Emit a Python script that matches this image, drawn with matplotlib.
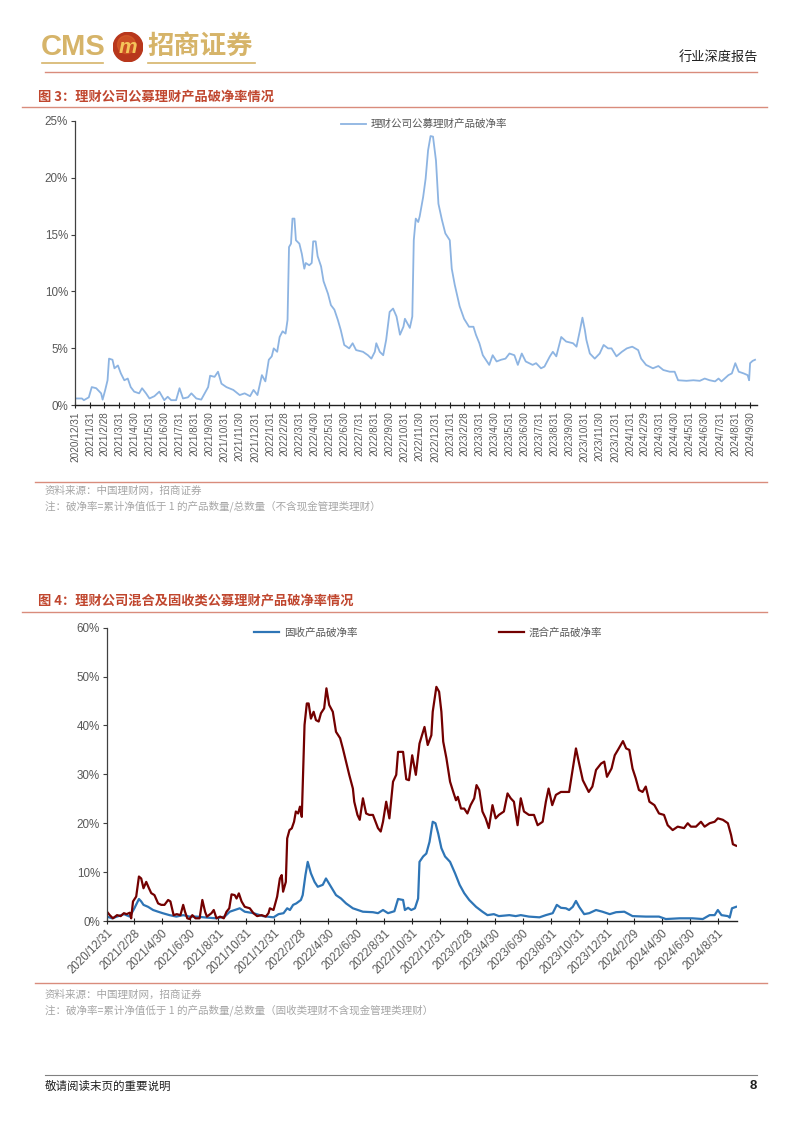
import matplotlib
matplotlib.use("Agg")
import matplotlib.pyplot as plt
from matplotlib.lines import Line2D
from matplotlib.patches import Circle
from matplotlib.ticker import FuncFormatter
import pandas as pd

W, H = 802, 1133
CJK = ["Noto Sans CJK SC", "DejaVu Sans"]
LATIN = ["Liberation Sans", "DejaVu Sans"]

# ---- 图3: 理财公司公募理财产品破净率 (%) ----
fig3_dates = [
    "2020-12-31", "2021-01-14", "2021-01-18", "2021-01-28", "2021-02-03", "2021-02-12", "2021-02-22",
    "2021-02-25", "2021-03-02", "2021-03-07", "2021-03-10", "2021-03-17", "2021-03-21", "2021-03-28",
    "2021-04-03", "2021-04-10", "2021-04-17", "2021-04-23", "2021-04-30", "2021-05-10", "2021-05-16",
    "2021-05-24", "2021-05-31", "2021-06-10", "2021-06-20", "2021-06-30", "2021-07-07", "2021-07-14",
    "2021-07-24", "2021-07-31", "2021-08-07", "2021-08-17", "2021-08-24", "2021-09-03", "2021-09-13",
    "2021-09-20", "2021-09-27", "2021-10-01", "2021-10-10", "2021-10-17", "2021-10-24", "2021-11-03",
    "2021-11-17", "2021-11-30", "2021-12-10", "2021-12-21", "2021-12-28", "2022-01-05", "2022-01-14",
    "2022-01-21", "2022-01-28", "2022-02-03", "2022-02-07", "2022-02-14", "2022-02-19", "2022-02-25",
    "2022-03-03", "2022-03-07", "2022-03-10", "2022-03-14", "2022-03-17", "2022-03-21", "2022-03-24",
    "2022-03-31", "2022-04-05", "2022-04-10", "2022-04-13", "2022-04-20", "2022-04-25", "2022-04-28",
    "2022-05-03", "2022-05-07", "2022-05-14", "2022-05-19", "2022-05-28", "2022-06-03", "2022-06-10",
    "2022-06-17", "2022-06-23", "2022-06-30", "2022-07-10", "2022-07-17", "2022-07-24", "2022-08-07",
    "2022-08-17", "2022-08-24", "2022-08-31", "2022-09-03", "2022-09-10", "2022-09-17", "2022-09-23",
    "2022-09-30", "2022-10-07", "2022-10-14", "2022-10-21", "2022-10-28", "2022-10-31", "2022-11-10",
    "2022-11-15", "2022-11-18", "2022-11-22", "2022-11-27", "2022-11-30", "2022-12-07", "2022-12-12",
    "2022-12-17", "2022-12-22", "2022-12-27", "2023-01-02", "2023-01-07", "2023-01-14", "2023-01-21",
    "2023-01-30", "2023-02-03", "2023-02-09", "2023-02-19", "2023-02-28", "2023-03-10", "2023-03-19",
    "2023-03-24", "2023-03-31", "2023-04-07", "2023-04-20", "2023-04-27", "2023-05-05", "2023-05-14",
    "2023-05-23", "2023-05-31", "2023-06-10", "2023-06-17", "2023-06-25", "2023-07-03", "2023-07-17",
    "2023-07-24", "2023-08-03", "2023-08-10", "2023-08-21", "2023-08-27", "2023-09-03", "2023-09-13",
    "2023-09-23", "2023-10-07", "2023-10-14", "2023-10-21", "2023-10-26", "2023-10-31", "2023-11-03",
    "2023-11-10", "2023-11-20", "2023-11-30", "2023-12-08", "2023-12-17", "2023-12-24", "2024-01-03",
    "2024-01-14", "2024-01-24", "2024-02-04", "2024-02-16", "2024-02-22", "2024-03-03", "2024-03-17",
    "2024-03-28", "2024-04-07", "2024-04-20", "2024-04-30", "2024-05-07", "2024-05-24", "2024-06-07",
    "2024-06-20", "2024-06-30", "2024-07-10", "2024-07-21", "2024-07-28", "2024-08-03", "2024-08-17",
    "2024-08-24", "2024-08-31", "2024-09-07", "2024-09-17", "2024-09-25", "2024-09-28", "2024-09-30",
    "2024-10-05", "2024-10-10",
]
fig3_rate = [
    0.6, 0.6, 0.45, 0.7, 1.6, 1.5, 1.05,
    0.5, 1.3, 2.2, 4.1, 4.0, 3.25, 3.5,
    2.8, 2.2, 2.35, 1.6, 1.2, 1.05, 1.5,
    1.05, 0.6, 0.8, 1.2, 0.45, 0.75, 0.45,
    0.45, 1.5, 0.6, 0.7, 1.05, 0.6, 0.5,
    1.05, 1.6, 2.6, 2.5, 2.95, 1.9, 1.6,
    1.35, 0.9, 1.05, 0.8, 1.35, 0.9, 2.65,
    2.1, 4.0, 4.3, 5.0, 4.7, 6.0, 6.5,
    6.3, 7.5, 13.9, 14.2, 16.4, 16.4, 14.5,
    14.2, 13.3, 12.0, 12.5, 12.3, 12.5, 14.4,
    14.4, 13.1, 12.2, 10.9, 9.8, 8.8, 8.4,
    7.5, 6.6, 5.3, 5.0, 5.45, 4.85, 4.7,
    4.4, 4.1, 4.7, 5.45, 4.7, 4.4, 5.75,
    8.2, 8.5, 7.8, 6.2, 6.9, 7.6, 6.8,
    7.8, 14.5, 16.4, 16.1, 16.6, 18.3, 19.9,
    22.4, 23.65, 23.6, 21.5, 17.7, 16.3, 15.1,
    14.5, 12.0, 10.6, 8.7, 7.6, 6.9, 6.9,
    6.2, 5.45, 4.4, 3.55, 4.4, 3.85, 4.0,
    4.1, 4.55, 4.4, 3.55, 4.55, 3.85, 3.55,
    3.7, 3.25, 3.4, 4.3, 4.7, 4.3, 6.0,
    5.6, 5.45, 5.15, 6.6, 7.7, 6.6, 5.75,
    4.55, 4.1, 4.55, 5.3, 5.0, 5.0, 4.3,
    4.7, 5.0, 5.15, 4.85, 4.1, 3.55, 3.25,
    3.45, 3.1, 2.95, 2.95, 2.2, 2.15, 2.2,
    2.15, 2.35, 2.2, 2.1, 2.35, 2.1, 2.65,
    2.8, 3.7, 2.95, 2.8, 2.65, 2.2, 3.7,
    3.9, 4.0,
]

# ---- 图4: 混合 / 固收 产品破净率 (%) ----
mixed_dates = [
    "2020-12-31", "2021-01-06", "2021-01-13", "2021-01-22", "2021-01-30", "2021-02-06", "2021-02-12",
    "2021-02-19", "2021-02-22", "2021-02-26", "2021-03-05", "2021-03-11", "2021-03-16", "2021-03-21",
    "2021-03-27", "2021-04-02", "2021-04-07", "2021-04-14", "2021-04-22", "2021-04-29", "2021-05-06",
    "2021-05-14", "2021-05-19", "2021-05-26", "2021-06-02", "2021-06-10", "2021-06-16", "2021-06-20",
    "2021-06-25", "2021-06-30", "2021-07-06", "2021-07-13", "2021-07-22", "2021-07-28", "2021-08-03",
    "2021-08-07", "2021-08-17", "2021-08-22", "2021-08-28", "2021-09-05", "2021-09-13", "2021-09-19",
    "2021-09-25", "2021-09-30", "2021-10-07", "2021-10-11", "2021-10-16", "2021-10-22", "2021-10-29",
    "2021-11-09", "2021-11-17", "2021-11-25", "2021-12-05", "2021-12-14", "2021-12-20", "2021-12-23",
    "2021-12-31", "2022-01-08", "2022-01-14", "2022-01-18", "2022-01-21", "2022-01-27", "2022-01-30",
    "2022-02-04", "2022-02-09", "2022-02-14", "2022-02-18", "2022-02-23", "2022-02-27", "2022-03-03",
    "2022-03-09", "2022-03-14", "2022-03-18", "2022-03-23", "2022-03-29", "2022-04-03", "2022-04-09",
    "2022-04-14", "2022-04-21", "2022-04-26", "2022-05-02", "2022-05-10", "2022-05-17", "2022-05-26",
    "2022-06-01", "2022-06-08", "2022-06-15", "2022-06-23", "2022-06-26", "2022-07-03", "2022-07-08",
    "2022-07-15", "2022-07-22", "2022-07-29", "2022-08-06", "2022-08-17", "2022-08-23", "2022-08-28",
    "2022-09-04", "2022-09-11", "2022-09-19", "2022-09-26", "2022-09-30", "2022-10-11", "2022-10-18",
    "2022-10-24", "2022-10-31", "2022-11-08", "2022-11-16", "2022-11-27", "2022-12-04", "2022-12-12",
    "2022-12-15", "2022-12-23", "2022-12-29", "2023-01-03", "2023-01-07", "2023-01-14", "2023-01-22",
    "2023-01-29", "2023-02-04", "2023-02-08", "2023-02-15", "2023-02-22", "2023-03-01", "2023-03-08",
    "2023-03-16", "2023-03-21", "2023-03-27", "2023-04-03", "2023-04-10", "2023-04-17", "2023-04-25",
    "2023-05-02", "2023-05-09", "2023-05-20", "2023-05-28", "2023-06-04", "2023-06-11", "2023-06-19",
    "2023-06-26", "2023-07-03", "2023-07-14", "2023-07-25", "2023-08-02", "2023-08-13", "2023-08-20",
    "2023-08-26", "2023-09-03", "2023-09-11", "2023-09-22", "2023-10-10", "2023-10-18", "2023-10-25",
    "2023-11-01", "2023-11-09", "2023-11-22", "2023-11-30", "2023-12-08", "2023-12-19", "2023-12-26",
    "2024-01-01", "2024-01-11", "2024-01-18", "2024-01-25", "2024-02-05", "2024-02-12", "2024-02-19",
    "2024-02-26", "2024-03-04", "2024-03-11", "2024-03-19", "2024-03-26", "2024-04-03", "2024-04-14",
    "2024-04-24", "2024-05-05", "2024-05-13", "2024-05-24", "2024-06-04", "2024-06-18", "2024-06-26",
    "2024-07-03", "2024-07-14", "2024-07-25", "2024-08-02", "2024-08-13", "2024-08-24", "2024-08-31",
    "2024-09-11", "2024-09-22", "2024-09-29", "2024-10-03", "2024-10-10",
]
mixed_rate = [
    1.9, 1.2, 0.55, 1.2, 1.0, 1.6, 1.4,
    1.7, 0.55, 4.0, 5.0, 9.1, 8.7, 6.7,
    8.0, 6.7, 5.7, 5.3, 3.6, 3.3, 3.3,
    4.3, 4.0, 1.2, 1.4, 1.2, 3.3, 1.9,
    0.55, 0.4, 1.2, 0.55, 0.55, 4.3, 1.9,
    0.9, 1.6, 2.25, 0.55, 0.9, 0.55, 1.9,
    2.6, 5.45, 5.3, 4.6, 5.65, 4.0, 2.9,
    2.6, 1.6, 1.0, 1.2, 0.9, 1.6, 2.6,
    2.25, 5.0, 8.7, 9.4, 6.0, 8.0, 16.9,
    18.6, 18.95, 20.3, 22.4, 22.0, 23.4, 21.3,
    40.1, 44.5, 44.5, 41.4, 42.8, 41.1, 40.8,
    42.5, 43.5, 47.6, 44.2, 42.8, 38.7, 37.4,
    35.3, 32.6, 29.9, 27.1, 24.4, 21.7, 20.7,
    25.1, 22.0, 21.7, 21.7, 19.0, 18.3, 20.3,
    24.4, 21.0, 28.5, 29.9, 34.6, 34.6, 29.0,
    28.8, 33.9, 29.9, 36.3, 39.7, 36.0, 38.0,
    42.8, 47.9, 46.9, 42.8, 36.7, 33.3, 28.5,
    26.4, 24.7, 25.4, 23.0, 23.0, 22.0, 23.7,
    25.1, 27.8, 26.8, 22.4, 21.0, 19.0, 23.7,
    21.0, 21.7, 22.4, 26.1, 25.1, 24.4, 19.6,
    25.1, 22.4, 21.7, 21.7, 19.6, 20.3, 24.4,
    27.1, 23.7, 25.8, 26.4, 26.4, 31.2, 35.3,
    32.2, 28.8, 26.4, 27.5, 30.9, 32.2, 32.6,
    29.5, 31.2, 33.9, 35.0, 36.8, 35.3, 35.0,
    31.2, 29.2, 26.8, 26.4, 27.5, 24.4, 23.7,
    22.0, 21.7, 19.6, 18.6, 19.3, 19.0, 20.0,
    19.3, 19.3, 20.3, 19.3, 20.0, 20.3, 21.0,
    20.7, 20.0, 17.6, 15.7, 15.4,
]
fixed_dates = [
    "2020-12-31", "2021-01-11", "2021-01-22", "2021-02-06", "2021-02-19", "2021-03-01", "2021-03-11",
    "2021-03-16", "2021-03-21", "2021-03-31", "2021-04-11", "2021-04-22", "2021-05-02", "2021-05-17",
    "2021-06-01", "2021-06-16", "2021-06-30", "2021-07-15", "2021-08-06", "2021-08-28", "2021-09-15",
    "2021-09-26", "2021-10-07", "2021-10-18", "2021-10-29", "2021-11-17", "2021-12-08", "2021-12-31",
    "2022-01-11", "2022-01-22", "2022-01-30", "2022-02-05", "2022-02-12", "2022-02-19", "2022-03-01",
    "2022-03-05", "2022-03-11", "2022-03-16", "2022-03-23", "2022-03-31", "2022-04-07", "2022-04-18",
    "2022-04-25", "2022-05-06", "2022-05-17", "2022-05-28", "2022-06-08", "2022-06-23", "2022-07-15",
    "2022-08-06", "2022-08-17", "2022-08-28", "2022-09-08", "2022-09-22", "2022-09-30", "2022-10-11",
    "2022-10-15", "2022-10-22", "2022-10-29", "2022-11-06", "2022-11-13", "2022-11-16", "2022-11-24",
    "2022-12-01", "2022-12-08", "2022-12-15", "2022-12-21", "2022-12-27", "2023-01-03", "2023-01-11",
    "2023-01-22", "2023-02-02", "2023-02-12", "2023-02-22", "2023-03-05", "2023-03-20", "2023-04-03",
    "2023-04-14", "2023-04-28", "2023-05-09", "2023-06-01", "2023-06-15", "2023-06-26", "2023-07-14",
    "2023-08-06", "2023-08-20", "2023-09-04", "2023-09-13", "2023-09-22", "2023-10-03", "2023-10-10",
    "2023-10-18", "2023-10-25", "2023-11-01", "2023-11-12", "2023-11-23", "2023-12-08", "2023-12-22",
    "2024-01-07", "2024-01-21", "2024-02-08", "2024-02-26", "2024-03-26", "2024-04-24", "2024-05-09",
    "2024-06-08", "2024-07-06", "2024-07-29", "2024-08-13", "2024-08-24", "2024-08-31", "2024-09-08",
    "2024-09-22", "2024-09-26", "2024-10-01", "2024-10-10",
]
fixed_rate = [
    0.9, 0.55, 0.9, 1.4, 0.9, 2.6, 4.5,
    4.0, 3.3, 2.9, 2.25, 1.9, 1.6, 1.2,
    0.9, 1.2, 0.9, 0.9, 0.7, 0.55, 0.9,
    1.9, 2.25, 2.6, 1.9, 1.6, 1.0, 0.75,
    1.4, 1.6, 2.6, 2.25, 3.3, 3.6, 4.3,
    5.3, 9.4, 12.1, 9.75, 8.0, 7.0, 7.4,
    8.7, 7.0, 5.3, 4.6, 3.6, 2.6, 1.9,
    1.8, 1.6, 2.25, 1.6, 2.0, 4.5, 4.3,
    2.25, 2.7, 2.25, 2.6, 4.6, 12.1, 13.2,
    13.8, 16.2, 20.3, 20.0, 17.9, 14.9, 13.2,
    12.1, 9.75, 7.4, 5.7, 4.3, 2.9, 1.9,
    1.2, 1.4, 1.0, 1.2, 1.0, 1.2, 0.9,
    0.75, 1.2, 1.6, 3.3, 2.7, 2.6, 2.25,
    2.9, 4.1, 2.9, 1.4, 1.6, 2.25, 1.9,
    1.4, 1.8, 1.9, 1.0, 0.9, 0.9, 0.4,
    0.55, 0.55, 0.4, 1.2, 1.2, 2.25, 1.2,
    1.0, 0.7, 2.6, 2.9,
]

fig3_ticks = pd.date_range("2020-12-31", "2024-09-30", freq="ME")
fig4_ticks = pd.date_range("2020-12-31", "2024-08-31", freq="2ME")

TITLE_RED = "#C0462E"
RULE_RED = "#D98C7C"
GOLD = "#D6B469"
GRAY = "#595959"
NOTE_GRAY = "#A6A6A6"


def rect(l, t, r, b):
    return [l / W, 1 - b / H, (r - l) / W, (b - t) / H]


def fx(x):
    return x / W


def fy(y):
    return 1 - y / H


def hline(fig, x0, x1, y, color, lw=1.0):
    fig.add_artist(Line2D([fx(x0), fx(x1)], [fy(y), fy(y)], color=color, lw=lw))


def date_labels(ticks):
    return [f"{d.year}/{d.month}/{d.day}" for d in ticks]


def style_axes(ax, ymax, ystep):
    for s in ["top", "right"]:
        ax.spines[s].set_visible(False)
    ax.spines["left"].set_color("#404040")
    ax.spines["bottom"].set_color("#202020")
    ax.spines["left"].set_linewidth(0.9)
    ax.spines["bottom"].set_linewidth(1.0)
    ax.set_ylim(0, ymax)
    ax.set_yticks(range(0, ymax + 1, ystep))
    ax.yaxis.set_major_formatter(FuncFormatter(lambda v, _: f"{v:.0f}%"))
    ax.tick_params(axis="y", direction="out", length=3, width=0.8, colors="#404040",
                   labelcolor=GRAY, labelsize=8.4, pad=2)
    ax.tick_params(axis="x", direction="inout", length=5, width=0.8, colors="#202020",
                   labelcolor=GRAY, labelsize=7.2, pad=2)
    for lab in ax.get_yticklabels():
        lab.set_fontfamily(LATIN)


fig = plt.figure(figsize=(W / 100, H / 100), dpi=100)
fig.patch.set_facecolor("white")

# ---- header ----
fig.text(fx(41), fy(47), "CMS", fontsize=21, fontweight="bold", color=GOLD,
         family=LATIN, ha="left", va="center")
hline(fig, 42, 103, 63, GOLD, 1.2)
logo = fig.add_axes(rect(113, 32, 143, 62))
logo.set_aspect("equal")
logo.axis("off")
logo.set_xlim(0, 1)
logo.set_ylim(0, 1)
logo.add_patch(Circle((0.5, 0.5), 0.49, color="#B8371C"))
logo.add_patch(Circle((0.45, 0.58), 0.3, color="#D9602A", alpha=0.6))
logo.text(0.5, 0.48, "m", fontsize=15, fontweight="bold", fontstyle="italic",
          color="#F4C55A", ha="center", va="center", family=LATIN)
fig.text(fx(147), fy(46), "招商证券", fontsize=19, fontweight="bold", color=GOLD,
         family=CJK, ha="left", va="center")
hline(fig, 148, 255, 63, GOLD, 1.2)
fig.text(fx(758), fy(57), "行业深度报告", fontsize=9.5, color="#202020",
         family=CJK, ha="right", va="center")
hline(fig, 45, 757, 72, RULE_RED, 1.0)

# ---- figure 3 ----
fig.text(fx(38), fy(97), "图 3：理财公司公募理财产品破净率情况", fontsize=9.5,
         fontweight="bold", color=TITLE_RED, family=CJK, ha="left", va="center")
hline(fig, 22, 767, 107, RULE_RED, 1.0)

ax1 = fig.add_axes(rect(75, 120.7, 757, 405.3))
x3 = pd.to_datetime(fig3_dates)
ax1.plot(x3, fig3_rate, color="#8DB4E2", lw=1.3, label="理财公司公募理财产品破净率")
style_axes(ax1, 25, 5)
ax1.set_xlim(pd.Timestamp("2020-12-31"), pd.Timestamp("2024-10-14"))
ax1.set_xticks(fig3_ticks)
ax1.set_xticklabels(date_labels(fig3_ticks), rotation=90, ha="center", va="top",
                    family=LATIN)
ax1.legend(loc="upper left", bbox_to_anchor=(fx(341), fy(119)), bbox_transform=fig.transFigure,
           frameon=False, prop={"family": CJK, "size": 7.6}, handlelength=2.4,
           handletextpad=0.4, borderpad=0, borderaxespad=0, labelcolor=GRAY)

hline(fig, 35, 767, 482, RULE_RED, 1.0)
fig.text(fx(45), fy(491), "资料来源：中国理财网，招商证券", fontsize=7.6, color=NOTE_GRAY,
         family=CJK, ha="left", va="center")
fig.text(fx(45), fy(506), "注：破净率=累计净值低于 1 的产品数量/总数量（不含现金管理类理财）",
         fontsize=7.6, color=NOTE_GRAY, family=CJK, ha="left", va="center")

# ---- figure 4 ----
fig.text(fx(38), fy(601), "图 4：理财公司混合及固收类公募理财产品破净率情况", fontsize=9.5,
         fontweight="bold", color=TITLE_RED, family=CJK, ha="left", va="center")
hline(fig, 22, 767, 612, RULE_RED, 1.0)

ax2 = fig.add_axes(rect(107, 627.7, 737, 921))
ax2.plot(pd.to_datetime(fixed_dates), fixed_rate, color="#2E75B6", lw=1.6, label="固收产品破净率")
ax2.plot(pd.to_datetime(mixed_dates), mixed_rate, color="#730000", lw=1.6, label="混合产品破净率")
style_axes(ax2, 60, 10)
ax2.set_xlim(pd.Timestamp("2020-12-31"), pd.Timestamp("2024-10-12"))
ax2.set_xticks(fig4_ticks)
ax2.set_xticklabels(date_labels(fig4_ticks), rotation=45, ha="right", va="top",
                    rotation_mode="anchor", family=LATIN, fontsize=8.3)
ax2.legend(loc="upper left", bbox_to_anchor=(fx(254), fy(627)), bbox_transform=fig.transFigure,
           ncol=2, frameon=False, prop={"family": CJK, "size": 7.6}, handlelength=2.4,
           handletextpad=0.4, columnspacing=13.4, borderpad=0, borderaxespad=0,
           labelcolor=GRAY)

hline(fig, 35, 767, 983, RULE_RED, 1.0)
fig.text(fx(45), fy(995), "资料来源：中国理财网，招商证券", fontsize=7.6, color=NOTE_GRAY,
         family=CJK, ha="left", va="center")
fig.text(fx(45), fy(1010), "注：破净率=累计净值低于 1 的产品数量/总数量（固收类理财不含现金管理类理财）",
         fontsize=7.6, color=NOTE_GRAY, family=CJK, ha="left", va="center")

# ---- footer ----
hline(fig, 45, 757, 1075, "#808080", 0.8)
fig.text(fx(45), fy(1086), "敬请阅读末页的重要说明", fontsize=8.3, color="#202020",
         family=CJK, ha="left", va="center")
fig.text(fx(757), fy(1086), "8", fontsize=9.5, fontweight="bold", color="#202020",
         family=LATIN, ha="right", va="center")

fig.savefig("out.png", dpi=100, facecolor="white")
